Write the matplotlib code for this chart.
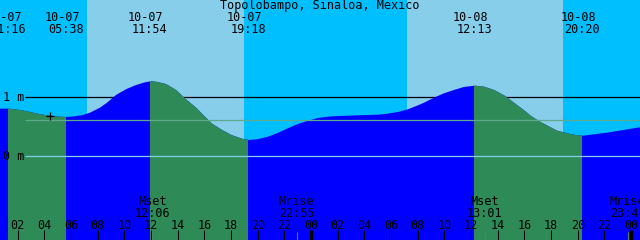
"""Tide graph for Topolobampo, Sinaloa, Mexico (XTide style)."""
import numpy as np
import matplotlib
matplotlib.use("Agg")
import matplotlib.pyplot as plt

TITLE = "Topolobampo, Sinaloa, Mexico"

# hours since 10-07 00:00, tide height in metres
tide_hours = [0.667, 1.342, 2.167, 2.917, 3.667, 4.417, 5.167, 5.692, 6.292, 6.892,
              7.417, 8.167, 8.692, 9.367, 10.117, 10.867, 11.617, 11.992, 12.367, 13.117,
              13.867, 14.617, 15.367, 16.117, 16.567, 17.317, 18.067, 18.817, 19.342, 19.942,
              20.692, 21.442, 22.192, 22.942, 23.692, 24.517, 25.267, 26.017, 26.767, 27.517,
              28.267, 29.017, 29.767, 30.517, 31.267, 32.017, 32.467, 33.217, 33.967, 34.717,
              35.467, 36.292, 36.967, 37.717, 38.467, 39.217, 39.967, 40.492, 41.167, 42.442,
              43.642, 44.392, 46.192, 48.667]
tide_m = [0.807, 0.807, 0.785, 0.751, 0.712, 0.688, 0.671, 0.666, 0.678, 0.700,
          0.739, 0.824, 0.908, 1.039, 1.136, 1.208, 1.259, 1.271, 1.264, 1.225,
          1.124, 0.966, 0.824, 0.654, 0.553, 0.446, 0.356, 0.298, 0.276, 0.288,
          0.327, 0.390, 0.468, 0.542, 0.598, 0.649, 0.671, 0.683, 0.688, 0.695,
          0.700, 0.705, 0.722, 0.751, 0.797, 0.864, 0.908, 0.993, 1.068, 1.124,
          1.175, 1.197, 1.180, 1.124, 1.034, 0.908, 0.780, 0.683, 0.586, 0.434,
          0.366, 0.349, 0.400, 0.492]

# high / low tide events
event_hours = [1.267, 5.633, 11.9, 19.3, 36.217, 44.333]
event_dates = ["10-07", "10-07", "10-07", "10-07", "10-08", "10-08"]
event_times = ["01:16", "05:38", "11:54", "19:18", "12:13", "20:20"]
ebb_spans = [(1.267, 5.633), (11.9, 19.3), (36.217, 44.333)]

# daylight
day_spans = [(7.19, 18.97), (31.19, 42.89)]

# moon events
moon_hours = [12.1, 22.917, 37.017, 47.733]
moon_names = ["Mset", "Mrise", "Mset", "Mrise"]
moon_times = ["12:06", "22:55", "13:01", "23:44"]

now_hour, now_m = 4.417, 0.683
msl_m = 0.61
t_start, t_end = 0.667, 48.667
y_low, y_high = -1.419, 2.649

DAY = "#87CEEB"
NIGHT = "#00BFFF"
FLOOD = "#0000FF"
EBB = "#2E8B57"

plt.rcParams["font.family"] = ["DejaVu Sans Mono"]
fs = 8.5

fig = plt.figure(figsize=(6.4, 2.4), dpi=100)
ax = fig.add_axes([0, 0, 1, 1])
ax.set_axis_off()
ax.set_xlim(t_start, t_end)
ax.set_ylim(y_low, y_high)

# sky
ax.axvspan(t_start, t_end, color=NIGHT, lw=0, zorder=0)
for a, b in day_spans:
    ax.axvspan(a, b, color=DAY, lw=0, zorder=0.1)

line_start = t_start + 25 * 0.075
ax.hlines(1.0, line_start, t_end, color="black", lw=0.9, zorder=1)

# tide fill: flood everywhere, ebb stretches clipped to the curve
poly = ax.fill_between(tide_hours, tide_m, y_low - 1, color=FLOOD, lw=0, zorder=2)
clip = poly.get_paths()[0]
for a, b in ebb_spans:
    span = ax.axvspan(a, b, color=EBB, lw=0, zorder=2.5)
    span.set_clip_path(clip, ax.transData)

ax.hlines(0.0, line_start, t_end, color="#87CEEB", lw=0.9, zorder=3)
ax.hlines(msl_m, line_start, t_end, color="#5FAA8C", lw=0.9, zorder=3)

ax.plot([now_hour], [now_m], marker="+", ms=6, mew=0.9, color="black", zorder=4)

# text
ax.text(0.5, 0.978, TITLE, transform=ax.transAxes, ha="center", va="center", fontsize=fs)
xt = ax.get_xaxis_transform()
for h, d, t in zip(event_hours, event_dates, event_times):
    ax.text(h - 0.3, 0.927, d, transform=xt, ha="center", va="center", fontsize=fs)
    ax.text(h, 0.877, t, transform=xt, ha="center", va="center", fontsize=fs)

yt = ax.get_yaxis_transform()
ax.text(3 / 640, 1.0, "1 m", transform=yt, ha="left", va="center", fontsize=fs)
ax.text(3 / 640, 0.0, "0 m", transform=yt, ha="left", va="center", fontsize=fs)

for h, n, t in zip(moon_hours, moon_names, moon_times):
    ax.text(h, 0.160, n, transform=xt, ha="center", va="center", fontsize=fs)
    ax.text(h, 0.110, t, transform=xt, ha="center", va="center", fontsize=fs)
    ax.vlines(h, 0, 0.035, transform=xt, color="#5a8070", lw=0.8, zorder=4)

hours = np.arange(2, 49, 2)
for h in hours:
    ax.text(h, 0.060, f"{h % 24:02d}", transform=xt, ha="center", va="center", fontsize=fs)
    ax.vlines(h, 0, 0.042, transform=xt, color="black", lw=2.5 if h % 24 == 0 else 0.75, zorder=4)

fig.savefig("out.png", dpi=100)
plt.close(fig)
